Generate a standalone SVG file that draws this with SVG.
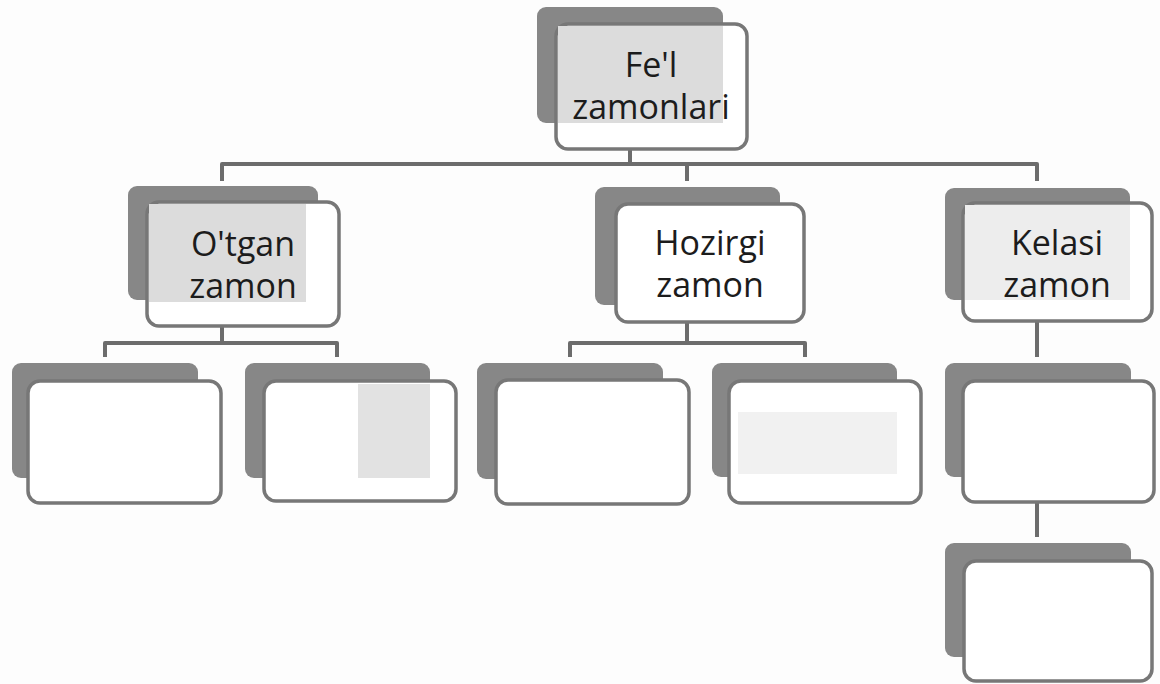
<svg xmlns="http://www.w3.org/2000/svg" width="1160" height="684" viewBox="0 0 1160 684">
  <style>
    .shadow { fill: #878787; }
    .card { fill: #ffffff; stroke: #777777; stroke-width: 3.5; }
    .tint { fill: #dcdcdc; }
    .wire { fill: none; stroke: #6c6c6c; stroke-width: 4; stroke-linejoin: round; }
    .label { font-family: "Open Sans", "Noto Sans", sans-serif; font-size: 34px; fill: #1c1c1c; text-anchor: middle; }
  </style>

  <rect width="1160" height="684" fill="#fdfdfd"/>

  <!-- connectors -->
  <g id="connectors">
    <path class="wire" d="M630,150 V164"/>
    <path class="wire" d="M222,181 V164 H1037 V181"/>
    <path class="wire" d="M687,164 V181"/>
    <path class="wire" d="M222,327 V343"/>
    <path class="wire" d="M105,357 V343 H337 V357"/>
    <path class="wire" d="M687,323 V343"/>
    <path class="wire" d="M570,357 V343 H805 V357"/>
    <path class="wire" d="M1037,322 V357"/>
    <path class="wire" d="M1037,503 V537"/>
  </g>

  <!-- root -->
  <g id="node-root">
    <rect class="shadow" x="537" y="7" width="186" height="116" rx="9"/>
    <rect class="card" x="556" y="24" width="191" height="125" rx="12"/>
    <rect class="tint" x="558" y="26" width="165" height="97"/>
    <text class="label" x="651" y="77">Fe'l<tspan x="651" dy="42">zamonlari</tspan></text>
  </g>

  <!-- past tense -->
  <g id="node-otgan">
    <rect class="shadow" x="128" y="186" width="190" height="114" rx="9"/>
    <rect class="card" x="147" y="202" width="192" height="124" rx="12"/>
    <rect class="tint" x="149" y="204" width="157" height="98"/>
    <text class="label" x="243" y="256">O'tgan<tspan x="243" dy="42">zamon</tspan></text>
  </g>

  <!-- present tense -->
  <g id="node-hozirgi">
    <rect class="shadow" x="595" y="187" width="185" height="118" rx="9"/>
    <rect class="card" x="616" y="204" width="188" height="118" rx="12"/>
    <text class="label" x="710" y="255">Hozirgi<tspan x="710" dy="42">zamon</tspan></text>
  </g>

  <!-- future tense -->
  <g id="node-kelasi">
    <rect class="shadow" x="945" y="188" width="185" height="112" rx="9"/>
    <rect class="card" x="963" y="203" width="189" height="118" rx="12"/>
    <rect x="965" y="205" width="165" height="95" fill="#ededed"/>
    <text class="label" x="1057" y="255">Kelasi<tspan x="1057" dy="42">zamon</tspan></text>
  </g>

  <!-- third level -->
  <g id="node-a">
    <rect class="shadow" x="12" y="363" width="186" height="115" rx="9"/>
    <rect class="card" x="28" y="381" width="193" height="122" rx="12"/>
  </g>
  <g id="node-b">
    <rect class="shadow" x="245" y="363" width="185" height="115" rx="9"/>
    <rect class="card" x="264" y="381" width="192" height="120" rx="12"/>
    <rect x="358" y="384" width="72" height="94" fill="#e2e2e2"/>
  </g>
  <g id="node-c">
    <rect class="shadow" x="477" y="363" width="186" height="116" rx="9"/>
    <rect class="card" x="496" y="380" width="193" height="124" rx="12"/>
  </g>
  <g id="node-d">
    <rect class="shadow" x="712" y="363" width="185" height="114" rx="9"/>
    <rect class="card" x="729" y="381" width="192" height="122" rx="12"/>
    <rect x="738" y="412" width="159" height="62" fill="#f1f1f1"/>
  </g>
  <g id="node-e">
    <rect class="shadow" x="945" y="363" width="186" height="114" rx="9"/>
    <rect class="card" x="963" y="381" width="191" height="121" rx="12"/>
  </g>
  <g id="node-f">
    <rect class="shadow" x="945" y="543" width="186" height="114" rx="9"/>
    <rect class="card" x="964" y="561" width="188" height="120" rx="12"/>
  </g>
</svg>
